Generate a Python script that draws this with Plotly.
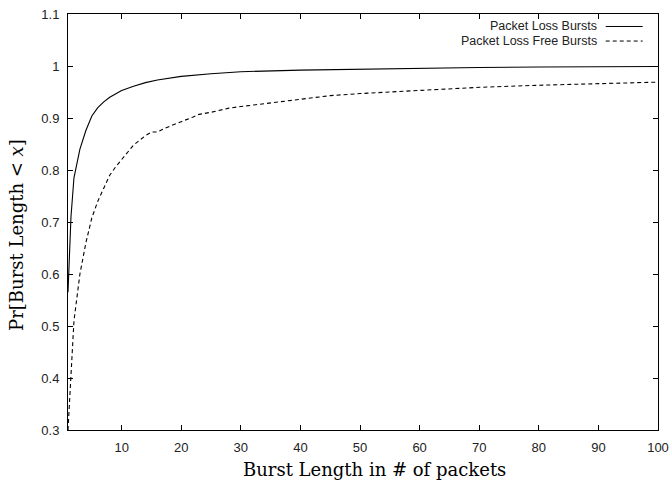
import plotly.graph_objects as go

# Cumulative distribution of burst lengths
series_names = ["Packet Loss Bursts", "Packet Loss Free Bursts"]

loss_x = [1, 1.5, 2, 3, 4, 5, 6, 7, 8, 9, 10, 12, 14, 16, 18, 20, 25, 30, 40, 50, 60, 70, 80, 90, 100]
loss_y = [0.565, 0.71, 0.785, 0.84, 0.876, 0.904, 0.92, 0.931, 0.94, 0.947, 0.953, 0.961, 0.968,
          0.973, 0.977, 0.980, 0.985, 0.989, 0.992, 0.994, 0.996, 0.997, 0.998, 0.9985, 0.999]

free_x = [1, 2, 3, 4, 5, 6, 7, 8, 9, 10, 11, 12, 13, 14, 15, 16, 17, 18, 19, 20, 22, 23, 25, 28,
          30, 35, 40, 45, 50, 55, 60, 70, 80, 90, 100]
free_y = [0.30, 0.51, 0.60, 0.66, 0.708, 0.74, 0.765, 0.79, 0.806, 0.82, 0.835, 0.848, 0.857,
          0.866, 0.873, 0.873, 0.879, 0.884, 0.888, 0.893, 0.902, 0.907, 0.911, 0.919, 0.922,
          0.929, 0.936, 0.943, 0.947, 0.950, 0.954, 0.959, 0.963, 0.966, 0.969]

x_ticks = [10, 20, 30, 40, 50, 60, 70, 80, 90, 100]
y_ticks = [0.3, 0.4, 0.5, 0.6, 0.7, 0.8, 0.9, 1.0, 1.1]
y_tick_text = ["0.3", "0.4", "0.5", "0.6", "0.7", "0.8", "0.9", "1", "1.1"]

x_title = "Burst Length in # of packets"
y_title = "Pr[Burst Length &lt; <i>x</i>]"

dash_style = "4px,3px"
tick_font = dict(family="Liberation Sans, Arial, sans-serif", size=13, color="#222")
key_font = dict(family="Liberation Sans, Arial, sans-serif", size=12.5, color="#222")
title_font = dict(family="DejaVu Serif, serif", size=18, color="black")

fig = go.Figure()
fig.add_trace(go.Scatter(x=loss_x, y=loss_y, mode="lines", name=series_names[0],
                         line=dict(color="black", width=1.1), showlegend=False))
fig.add_trace(go.Scatter(x=free_x, y=free_y, mode="lines", name=series_names[1],
                         line=dict(color="black", width=1.1, dash=dash_style), showlegend=False))

# Key in the upper right: right-aligned label followed by a line sample
key_rows = [(0.970, "solid"), (0.935, dash_style)]
for name, (ky, dash) in zip(series_names, key_rows):
    fig.add_annotation(x=0.899, y=ky, xref="paper", yref="paper", text=name, showarrow=False,
                       xanchor="right", yanchor="middle", font=key_font, borderpad=0)
    fig.add_shape(type="line", xref="paper", yref="paper", x0=0.9114, x1=0.974, y0=ky, y1=ky,
                  line=dict(color="black", width=1, dash=dash))

# Axis titles
fig.add_annotation(x=0.52, y=-0.096, xref="paper", yref="paper", text=x_title, showarrow=False,
                   xanchor="center", yanchor="middle", font=title_font)
fig.add_annotation(x=-0.0864, y=0.469, xref="paper", yref="paper", text=y_title, showarrow=False,
                   textangle=-90, xanchor="center", yanchor="middle", font=title_font)

axis_common = dict(showline=True, linecolor="black", linewidth=1, mirror="allticks",
                   ticks="inside", ticklen=5, tickcolor="black", tickwidth=1,
                   showgrid=False, zeroline=False, tickfont=tick_font, automargin=False)

fig.update_xaxes(range=[1, 100], tickvals=x_ticks, ticklabelstandoff=5, **axis_common)
fig.update_yaxes(range=[0.3, 1.1], tickvals=y_ticks, ticktext=y_tick_text, ticklabelstandoff=5,
                 **axis_common)

fig.update_layout(width=669, height=486, margin=dict(l=68, r=11, t=14, b=56),
                  plot_bgcolor="white", paper_bgcolor="white")

fig.write_html("out.html")
